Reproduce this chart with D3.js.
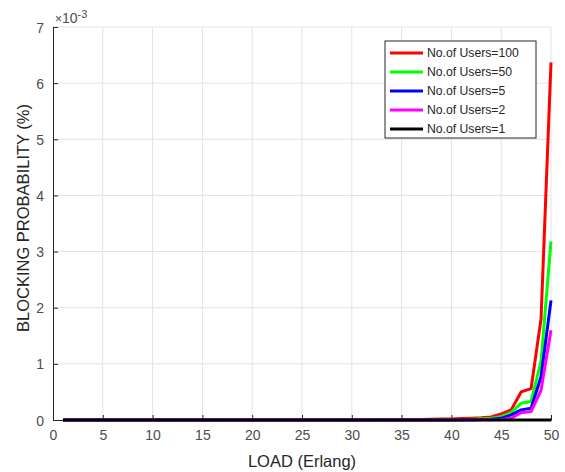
<!DOCTYPE html>
<html>
<head>
<meta charset="utf-8">
<script src="https://cdn.jsdelivr.net/npm/d3@7"></script>
<style>
  body { margin: 0; background: #fff; }
  text { font-family: "Liberation Sans", Arial, sans-serif; }
</style>
</head>
<body>
<div id="chart"></div>
<script>
// load values (Erlang)
var loads = [1,2,3,4,5,6,7,8,9,10,11,12,13,14,15,16,17,18,19,20,21,22,23,24,25,
             26,27,28,29,30,31,32,33,34,35,36,37,38,39,40,41,42,43,44,45,46,47,48,49,50];

// blocking probability, in units of 1e-3
var users100 = [0,0,0,0,0,0,0,0,0,0,0,0,0,0,0,0,0,0,0,0,0,0,0,0,0,
                0,0,0,0,0,0.001,0.002,0.003,0.004,0.006,0.008,0.010,0.013,0.016,0.020,
                0.025,0.031,0.040,0.055,0.11,0.18,0.50,0.56,1.80,6.37];
var users50  = [0,0,0,0,0,0,0,0,0,0,0,0,0,0,0,0,0,0,0,0,0,0,0,0,0,
                0,0,0,0,0,0,0,0,0,0,0.002,0.003,0.004,0.006,0.008,
                0.011,0.015,0.021,0.030,0.06,0.13,0.30,0.33,1.05,3.18];
var users5   = [0,0,0,0,0,0,0,0,0,0,0,0,0,0,0,0,0,0,0,0,0,0,0,0,0,
                0,0,0,0,0,0,0,0,0,0,0,0,0,0,0.002,
                0.003,0.005,0.008,0.012,0.03,0.09,0.18,0.21,0.77,2.13];
var users2   = [0,0,0,0,0,0,0,0,0,0,0,0,0,0,0,0,0,0,0,0,0,0,0,0,0,
                0,0,0,0,0,0,0,0,0,0,0,0,0,0,0,
                0.001,0.002,0.003,0.005,0.01,0.03,0.13,0.15,0.53,1.60];
var users1   = [0,0,0,0,0,0,0,0,0,0,0,0,0,0,0,0,0,0,0,0,0,0,0,0,0,
                0,0,0,0,0,0,0,0,0,0,0,0,0,0,0,
                0,0,0,0,0,0,0,0,0,0];

var seriesNames = ["No.of Users=100", "No.of Users=50", "No.of Users=5", "No.of Users=2", "No.of Users=1"];
var seriesValues = [users100, users50, users5, users2, users1];
var seriesColors = ["#ff0000", "#00ff00", "#0000ff", "#ff00ff", "#000000"];

var xTicks = [0,5,10,15,20,25,30,35,40,45,50];
var yTicks = [0,1,2,3,4,5,6,7];

var width = 565, height = 472;
var margin = {top: 27, right: 14, bottom: 52, left: 53};
var w = width - margin.left - margin.right,
    h = height - margin.top - margin.bottom;

var svg = d3.select("#chart").append("svg")
    .attr("width", width)
    .attr("height", height);

var g = svg.append("g")
    .attr("transform", "translate(" + margin.left + "," + margin.top + ")");

var x = d3.scaleLinear().domain([0, 50]).range([0, w]);
var y = d3.scaleLinear().domain([0, 7]).range([h, 0]);

// grid
g.append("g").selectAll("line")
    .data(xTicks.slice(1))
    .enter().append("line")
    .attr("x1", function(d){ return x(d); })
    .attr("x2", function(d){ return x(d); })
    .attr("y1", 0).attr("y2", h)
    .attr("stroke", "#e3e3e3").attr("stroke-width", 1);

g.append("g").selectAll("line")
    .data(yTicks.slice(1))
    .enter().append("line")
    .attr("y1", function(d){ return y(d); })
    .attr("y2", function(d){ return y(d); })
    .attr("x1", 0).attr("x2", w)
    .attr("stroke", "#e3e3e3").attr("stroke-width", 1);

// axes (matlab style: ticks pointing in)
var xAxis = d3.axisBottom(x).tickValues(xTicks).tickSize(-5).tickPadding(10);
var yAxis = d3.axisLeft(y).tickValues(yTicks).tickFormat(d3.format("d")).tickSize(-5).tickPadding(9);

var gx = g.append("g")
    .attr("transform", "translate(0," + h + ")")
    .call(xAxis);
var gy = g.append("g").call(yAxis);

[gx, gy].forEach(function(a){
  a.select(".domain").attr("stroke", "#262626");
  a.selectAll(".tick line").attr("stroke", "#262626");
  a.selectAll(".tick text")
    .attr("fill", "#4d4d4d")
    .style("font-size", "14px")
    .style("font-family", "'Liberation Sans', Arial, sans-serif");
});
gy.selectAll(".tick text").attr("dy", "0.36em");

// lines
var line = d3.line()
    .x(function(d, i){ return x(loads[i]); })
    .y(function(d){ return y(d); });

seriesValues.forEach(function(vals, k){
  g.append("path")
    .datum(vals)
    .attr("fill", "none")
    .attr("stroke", seriesColors[k])
    .attr("stroke-width", 3)
    .attr("stroke-linejoin", "round")
    .attr("d", line);
});

// exponent label
var expo = svg.append("text")
    .attr("x", margin.left + 2)
    .attr("y", 23)
    .attr("fill", "#4d4d4d")
    .style("font-size", "14px");
expo.append("tspan").style("font-size", "12px").text("\u00d7");
expo.append("tspan").text("10");
expo.append("tspan").attr("dy", -5).style("font-size", "11px").text("-3");

// axis labels
svg.append("text")
    .attr("x", margin.left + w / 2)
    .attr("y", 467)
    .attr("text-anchor", "middle")
    .attr("fill", "#262626")
    .style("font-size", "16.5px")
    .text("LOAD (Erlang)");

svg.append("text")
    .attr("transform", "translate(29,218) rotate(-90)")
    .attr("text-anchor", "middle")
    .attr("fill", "#262626")
    .style("font-size", "16.5px")
    .text("BLOCKING PROBABILITY (%)");

// legend
var legend = svg.append("g").attr("transform", "translate(385,41)");
legend.append("rect")
    .attr("width", 151).attr("height", 97)
    .attr("fill", "#fff").attr("stroke", "#262626").attr("stroke-width", 1);

var item = legend.selectAll(".item")
    .data(seriesNames)
    .enter().append("g")
    .attr("class", "item")
    .attr("transform", function(d, i){ return "translate(0," + (12 + i * 19) + ")"; });

item.append("line")
    .attr("x1", 5).attr("x2", 38)
    .attr("stroke", function(d, i){ return seriesColors[i]; })
    .attr("stroke-width", 3);

item.append("text")
    .attr("x", 42)
    .attr("dy", "0.36em")
    .attr("fill", "#262626")
    .style("font-size", "12.2px")
    .text(function(d){ return d; });
</script>
</body>
</html>
